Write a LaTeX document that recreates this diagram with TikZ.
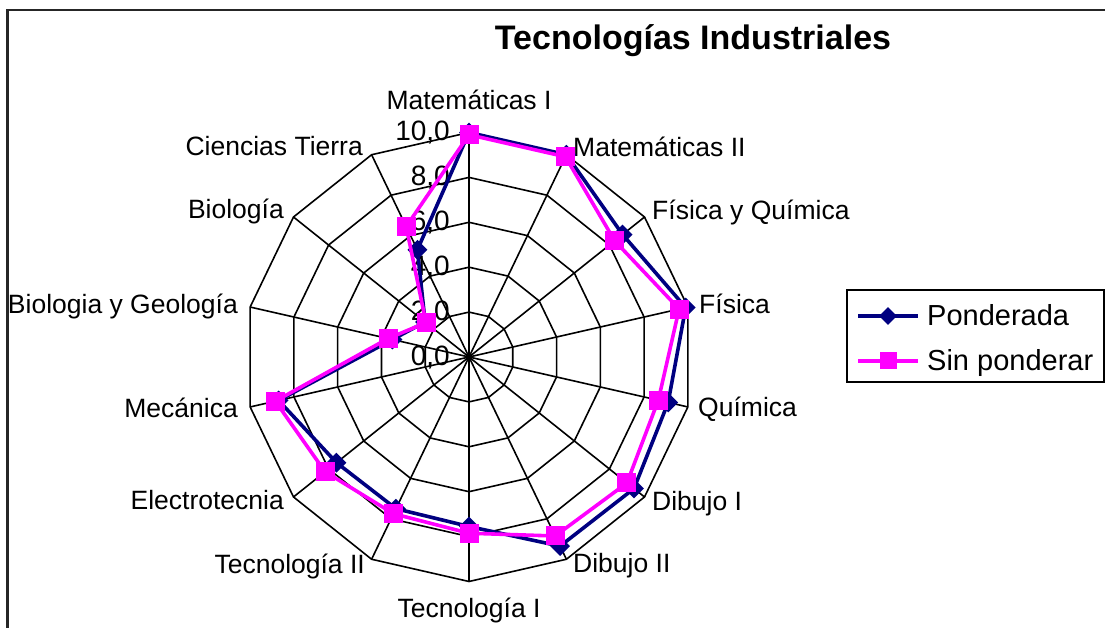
\documentclass[tikz,border=0pt]{standalone}
\usepackage{fontspec}
\setmainfont{Liberation Sans}
\usetikzlibrary{shapes.geometric}
\definecolor{navyser}{RGB}{0,0,128}
\definecolor{magser}{RGB}{255,0,255}
\tikzset{
  lbl/.style={font=\fontsize{26.5}{30}\selectfont, inner sep=0pt},
  leglbl/.style={font=\fontsize{29}{32}\selectfont, inner sep=0pt},
  rejilla/.style={line width=1.6pt, line join=miter},
  serie/.style={line width=3.6pt, line join=round},
  rombo/.style={diamond, fill=navyser, minimum size=20pt, inner sep=0pt},
  cuadro/.style={rectangle, fill=magser, minimum size=19pt, inner sep=0pt}
}
\begin{document}
\begin{tikzpicture}[x=1pt,y=1pt]
\useasboundingbox (0,0) rectangle (1105,628);
\draw[line width=2.2pt, black!85] (7.5,-5) -- (7.5,618) -- (1110,618);
\node[font=\bfseries\fontsize{34}{38}\selectfont, inner sep=0pt, anchor=base] (titulo) at (693,578.7) {Tecnologías Industriales};

\coordinate (c) at (469,271);
\begin{scope}[shift={(c)}]
\foreach \k in {0,...,13}
  \draw[rejilla] (0,0) -- ({90-\k*360/14}:224.5);
\foreach \r in {2,4,6,8,10}
  \draw[rejilla] (90:{\r*22.45}) \foreach \k in {1,...,13}{ -- ({90-\k*360/14}:{\r*22.45})} -- cycle;
\foreach \k/\a/\b in {0/10.0/9.9, 1/10.0/9.9, 2/8.75/8.3, 3/9.9/9.6, 4/9.1/8.65, 5/9.4/9.0, 6/9.35/8.85, 7/7.55/7.85, 8/7.5/7.75, 9/7.55/8.2, 10/8.7/8.85, 11/3.5/3.7, 12/2.5/2.45, 13/5.3/6.45}{
  \coordinate (p\k) at ({90-\k*360/14}:{\a*22.45});
  \coordinate (s\k) at ({90-\k*360/14}:{\b*22.45});
}
\end{scope}

\foreach \r in {0,2,4,6,8,10}
  \node[font=\fontsize{28}{30}\selectfont, inner sep=0pt, anchor=base east] (n\r) at (450,{271+\r*22.45-8.5}) {\r,0};

\foreach \x/\y/\anc/\txt [count=\i] in {469/518.7/base/Matemáticas I, 573/471.3/base west/Matemáticas II, 652/408.7/base west/Física y Química, 699/314.7/base west/Física, 698/211.3/base west/Química, 652/117.3/base west/Dibujo I, 573/55.3/base west/Dibujo II, 469/10.7/base/Tecnología I, 365/54.7/base east/Tecnología II, 284/118/base east/Electrotecnia, 238/210.7/base east/Mecánica, 238/314.7/base east/Biologia y Geología, 284/409.7/base east/Biología, 363/472/base east/Ciencias Tierra}
  \node[lbl, anchor=\anc] (eje\i) at (\x,\y) {\txt};

\draw[serie, navyser] (p0) \foreach \k in {1,...,13}{ -- (p\k)} -- cycle;
\foreach \k in {0,...,13}
  \node[rombo] (mp\k) at (p\k) {};
\draw[serie, magser] (s0) \foreach \k in {1,...,13}{ -- (s\k)} -- cycle;
\foreach \k in {0,...,13}
  \node[cuadro] (ms\k) at (s\k) {};

\draw[line width=1.6pt] (847,246) rectangle (1104,338);
\coordinate (l1a) at (858,312); \coordinate (l1b) at (918,312);
\coordinate (l2a) at (858,267); \coordinate (l2b) at (918,267);
\draw[serie, navyser] (l1a) -- (l1b);
\node[rombo, minimum size=18pt] (legp) at (888,312) {};
\node[leglbl, anchor=base west] (txtp) at (927,302.3) {Ponderada};
\draw[serie, magser] (l2a) -- (l2b);
\node[cuadro, minimum size=17pt] (legs) at (888,267) {};
\node[leglbl, anchor=base west] (txts) at (927,257) {Sin ponderar};
\end{tikzpicture}
\end{document}
